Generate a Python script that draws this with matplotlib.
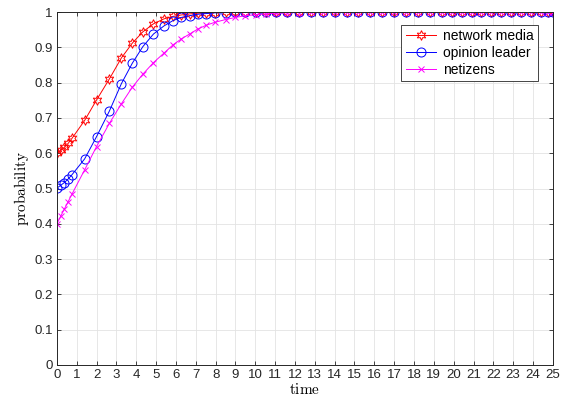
import matplotlib
matplotlib.use("Agg")
import matplotlib.pyplot as plt

plt.rcParams["mathtext.fontset"] = "cm"

# time steps (solver output)
time = [0, 0.19, 0.38, 0.57, 0.76, 1.4, 2.0, 2.65, 3.25, 3.8, 4.33, 4.87, 5.4,
        5.85, 6.27, 6.69, 7.1, 7.53, 7.95, 8.5, 9.0, 9.5, 10.05, 10.55, 11.05,
        11.6, 12.2, 12.8, 13.4, 14.0, 14.6, 15.2, 15.8, 16.4, 17.0, 17.6, 18.2,
        18.8, 19.4, 19.9, 20.4, 20.9, 21.4, 21.9, 22.4, 22.9, 23.4, 23.9, 24.4,
        24.75, 25]

tail = [1.0] * 28

network_media = [0.600, 0.608, 0.617, 0.628, 0.642, 0.693, 0.751, 0.811, 0.870,
                 0.912, 0.944, 0.967, 0.981, 0.988, 0.992, 0.995, 0.997, 0.998,
                 0.999, 0.9995, 1.0, 1.0, 1.0] + tail
opinion_leader = [0.501, 0.509, 0.517, 0.527, 0.539, 0.584, 0.647, 0.720, 0.797,
                  0.855, 0.902, 0.938, 0.961, 0.976, 0.985, 0.990, 0.994, 0.996,
                  0.998, 0.999, 0.9995, 1.0, 1.0] + tail
netizens = [0.400, 0.421, 0.442, 0.463, 0.484, 0.553, 0.619, 0.685, 0.740,
            0.787, 0.824, 0.857, 0.884, 0.907, 0.924, 0.938, 0.952, 0.963,
            0.971, 0.979, 0.985, 0.990, 0.993] + [0.995, 0.997, 0.998, 0.999] + [1.0] * 24

labels = ["network media", "opinion leader", "netizens"]

fig = plt.figure(figsize=(5.63, 4.05), dpi=100)
ax = fig.add_axes([0.101, 0.099, 0.881, 0.871])

ax.plot(time, network_media, color="red", lw=0.7, marker=(6, 1, 0), ms=7,
        mfc="none", mew=0.7, label=labels[0])
ax.plot(time, opinion_leader, color="blue", lw=0.7, marker="o", ms=6.5,
        mfc="none", mew=0.7, label=labels[1])
ax.plot(time, netizens, color="magenta", lw=0.7, marker="x", ms=5,
        mew=0.7, label=labels[2])

ax.set_xlim(0, 25)
ax.set_ylim(0, 1)
ax.set_xticks(range(0, 26))
ax.set_yticks([i / 10 for i in range(11)])
ax.set_yticklabels(["0", "0.1", "0.2", "0.3", "0.4", "0.5", "0.6", "0.7",
                    "0.8", "0.9", "1"])
ax.grid(True, color="#e3e3e3", lw=0.6)
ax.set_axisbelow(True)
ax.tick_params(direction="in", top=True, right=True, length=3, width=0.6,
               labelsize=9.5, pad=3, colors="#262626")
for tl in ax.get_xticklabels() + ax.get_yticklabels():
    tl.set_fontfamily("Liberation Sans")
    tl.set_color("#262626")
for s in ax.spines.values():
    s.set_linewidth(0.7)
    s.set_color("#262626")

ax.set_xlabel(r"$\mathrm{time}$", fontsize=11, labelpad=1)
ax.set_ylabel(r"$\mathrm{probability}$", fontsize=11, labelpad=2)

leg = ax.legend(loc="upper right", bbox_to_anchor=(0.970, 0.964), borderaxespad=0,
                fancybox=False, edgecolor="#262626", framealpha=1,
                handlelength=2.2, borderpad=0.3, labelspacing=0.2,
                handletextpad=0.5, prop={"family": "Liberation Sans", "size": 10})
leg.get_frame().set_linewidth(0.6)

fig.savefig("out.png", dpi=100)
